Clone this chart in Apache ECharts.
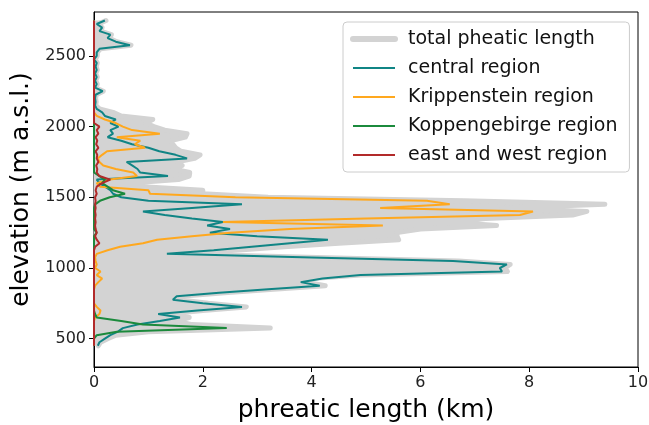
<!DOCTYPE html>
<html><head><meta charset="utf-8">
<script src="https://cdn.jsdelivr.net/npm/echarts@6/dist/echarts.min.js"></script>
<style>html,body{margin:0;padding:0;background:#fff}#c{width:649px;height:425px}</style>
</head><body><div id="c"></div>
<script>
// elevation bins (m a.s.l.), top to bottom
const elevation = [2750,2725,2700,2675,2650,2625,2600,2575,2550,2525,2500,2475,2450,2425,2400,2375,2350,2325,2300,2275,2250,2225,2200,2175,2150,2125,2100,2075,2050,2025,2000,1975,1950,1925,1900,1875,1850,1825,1800,1775,1750,1725,1700,1675,1650,1625,1600,1575,1550,1525,1500,1475,1450,1425,1400,1375,1350,1325,1300,1275,1250,1225,1200,1175,1150,1125,1100,1075,1050,1025,1000,975,950,925,900,875,850,825,800,775,750,725,700,675,650,625,600,575,550,525,500,475,450];
// phreatic length (km)
const totalLength = [0.22,0.08,0.15,0.12,0.32,0.28,0.42,0.68,0.12,0.06,0.06,0.02,0.06,0.04,0.06,0.03,0.06,0.03,0.06,0.03,0.17,0.04,0.03,0.04,0.03,0.1,0.35,0.5,1.08,0.95,1.1,1.3,1.71,1.68,1.4,1.45,1.5,1.6,1.95,1.85,1.53,1.62,1.45,1.76,1.75,1.55,0.6,0.9,2.0,2.0,3.2,6.8,9.39,7.5,9.06,8.8,7.2,6.5,7.4,6.0,5.57,5.57,5.6,4.5,3.5,2.6,1.5,4.1,6.7,7.65,7.55,7.6,4.9,4.0,3.9,4.25,3.3,2.4,1.6,1.55,2.1,2.8,2.0,1.35,1.75,1.5,1.8,3.24,1.0,0.4,0.25,0.12,0.08];
const centralRegion = [0.2,0.05,0.15,0.1,0.3,0.25,0.4,0.66,0.1,0.05,0.05,0.0,0.05,0.03,0.05,0.02,0.05,0.02,0.05,0.02,0.16,0.03,0.02,0.03,0.02,0.05,0.15,0.2,0.4,0.3,0.45,0.3,0.35,0.25,0.5,0.7,1.0,1.2,1.5,1.71,0.6,0.7,0.8,0.85,1.36,0.05,0.1,0.2,0.3,0.35,0.5,1.0,2.72,1.8,0.9,1.3,1.8,2.37,2.08,2.5,2.13,3.0,4.3,3.6,2.9,2.2,1.34,4.0,6.6,7.59,7.46,7.5,4.9,4.2,3.8,4.15,3.2,2.3,1.52,1.45,2.0,2.72,1.9,1.18,1.58,1.21,0.8,0.53,0.44,0.3,0.2,0.1,0.07];
const krippensteinRegion = [0,0,0,0,0,0,0,0,0,0,0,0,0,0,0,0,0,0,0,0,0,0,0,0,0,0,0,0.05,0.2,0.4,0.53,0.7,1.21,0.42,0.85,0.75,0.94,0.24,0.15,0.07,0.1,0.17,0.4,0.72,0.79,0.29,0.05,0.11,1.0,1.03,2.6,6.12,6.54,5.26,8.07,7.83,5.0,2.37,5.31,3.6,2.5,1.8,1.16,0.9,0.48,0.25,0.05,0.02,0.03,0.05,0.02,0.12,0.05,0.15,0.08,0.02,0,0,0,0,0,0.05,0.12,0.1,0.02,0,0,0,0,0,0,0,0];
const koppengebirgeRegion = [0,0,0,0,0,0,0,0,0,0,0,0,0,0,0,0,0,0,0,0,0,0,0,0,0,0,0,0,0,0,0,0,0,0,0,0,0,0,0,0,0,0,0,0,0.1,0.2,0.15,0.25,0.35,0.57,0.29,0.11,0.02,0,0,0,0,0,0,0,0.05,0,0,0,0,0,0,0,0,0,0,0,0,0,0,0,0,0,0,0,0,0,0,0.02,0.05,0.5,0.9,2.44,0.42,0.05,0,0,0];
const eastWestRegion = [0,0,0,0,0,0,0,0,0,0,0,0,0,0,0,0,0,0,0,0,0,0,0,0,0,0,0,0,0,0,0.1,0.05,0.08,0.03,0.06,0.04,0.08,0.03,0.06,0.05,0.08,0.04,0.06,0.05,0.1,0.3,0.15,0.05,0.03,0.05,0.02,0.03,0.02,0.03,0.02,0.03,0.02,0.03,0.02,0.03,0.05,0.02,0.05,0.1,0.02,0,0,0,0,0,0,0,0,0,0,0,0,0,0,0,0,0,0,0,0,0,0,0,0,0,0,0,0];
const seriesNames = ['total pheatic length','central region','Krippenstein region','Koppengebirge region','east and west region'];
const yTicks = [500,1000,1500,2000,2500];

const pairs = arr => arr.map((v,i)=>[v, elevation[i]]);
const chart = echarts.init(document.getElementById('c'));
const F = 'DejaVu Sans';
const colors = ['#d3d3d3','#108585','#ffa81e','#1b8a3c','#b22a2a'];
chart.setOption({
  animation:false,
  grid:{left:94,right:11,top:12,bottom:58,outerBoundsMode:'none',containLabel:false,show:true,borderColor:'#000',borderWidth:1,backgroundColor:'transparent'},
  xAxis:{type:'value',min:0,max:10,interval:2,
    name:'phreatic length (km)',nameLocation:'middle',nameGap:31,
    nameTextStyle:{fontFamily:F,fontSize:25,color:'#000'},
    axisLine:{show:true,lineStyle:{color:'#000',width:1}},
    axisTick:{show:true,length:5,lineStyle:{color:'#000'}},
    axisLabel:{fontFamily:F,fontSize:16,color:'#222',margin:8},
    splitLine:{show:false}},
  yAxis:{type:'value',min:300,max:2810,
    name:'elevation (m a.s.l.)',nameLocation:'middle',nameGap:59,
    nameTextStyle:{fontFamily:F,fontSize:25,color:'#000'},
    axisLine:{show:true,lineStyle:{color:'#000',width:1}},
    axisTick:{show:true,length:5,lineStyle:{color:'#000'},customValues:yTicks},
    axisLabel:{fontFamily:F,fontSize:16,color:'#222',margin:8,customValues:yTicks,formatter:v=>String(v)},
    splitLine:{show:false}},
  legend:{left:343,top:22,orient:'vertical',padding:[6,12,6,7],itemGap:7,itemWidth:42,itemHeight:14,
    backgroundColor:'rgba(255,255,255,0.85)',borderColor:'#cccccc',borderWidth:1,borderRadius:4,
    itemStyle:{opacity:0},
    textStyle:{fontFamily:F,fontSize:19,color:'#111',lineHeight:22,padding:[0,0,0,8]},
    data:seriesNames.map((n,i)=>({name:n,lineStyle:{width:i===0?6:2,color:colors[i]}}))},
  series:[
    {type:'custom',name:'fill',silent:true,data:[[0,elevation[0]]],z:1,
      renderItem:(params,api)=>{
        const pts=[api.coord([0,elevation[0]])];
        totalLength.forEach((v,i)=>pts.push(api.coord([v,elevation[i]])));
        pts.push(api.coord([0,elevation[elevation.length-1]]));
        return {type:'polygon',shape:{points:pts},style:{fill:'#d3d3d3'}};
      }},
    {type:'line',name:seriesNames[0],data:pairs(totalLength),symbol:'none',z:2,
      lineStyle:{color:colors[0],width:5,join:'round',cap:'round'},itemStyle:{color:colors[0]}},
    {type:'line',name:seriesNames[1],data:pairs(centralRegion),symbol:'none',z:3,
      lineStyle:{color:colors[1],width:2},itemStyle:{color:colors[1]}},
    {type:'line',name:seriesNames[2],data:pairs(krippensteinRegion),symbol:'none',z:4,
      lineStyle:{color:colors[2],width:2},itemStyle:{color:colors[2]}},
    {type:'line',name:seriesNames[3],data:pairs(koppengebirgeRegion),symbol:'none',z:5,
      lineStyle:{color:colors[3],width:2},itemStyle:{color:colors[3]}},
    {type:'line',name:seriesNames[4],data:pairs(eastWestRegion),symbol:'none',z:6,
      lineStyle:{color:colors[4],width:2},itemStyle:{color:colors[4]}}
  ]
});
</script></body></html>
